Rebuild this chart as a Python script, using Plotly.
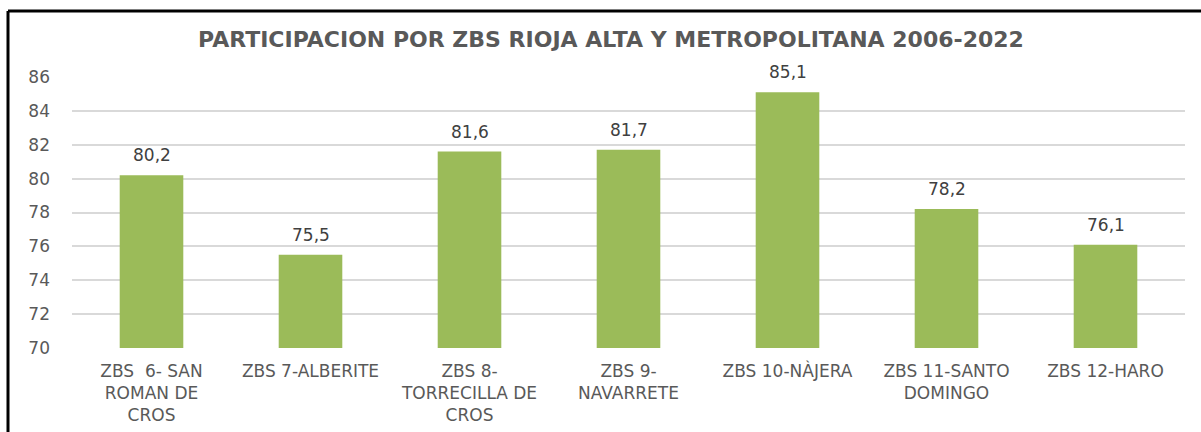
import plotly.graph_objects as go

categories = [
    "ZBS  6- SAN<br>ROMAN DE<br>CROS",
    "ZBS 7-ALBERITE",
    "ZBS 8-<br>TORRECILLA DE<br>CROS",
    "ZBS 9-<br>NAVARRETE",
    "ZBS 10-NÀJERA",
    "ZBS 11-SANTO<br>DOMINGO",
    "ZBS 12-HARO",
]
values = [80.2, 75.5, 81.6, 81.7, 85.1, 78.2, 76.1]
y_ticks = [70, 72, 74, 76, 78, 80, 82, 84, 86]

FONT = "DejaVu Sans"
TXT = "#595959"

W, H = 1201, 432
L, T = 72, 77
R = W - 1185
B = H - 348
pw, ph = W - L - R, H - T - B

fig = go.Figure()
fig.add_trace(go.Bar(
    x=categories, y=values,
    marker=dict(color="#9BBB59", line=dict(width=0)),
    width=0.4,
    hoverinfo="x+y",
))

for c, v in zip(categories, values):
    fig.add_annotation(
        x=c, y=v, text=f"{v:.1f}".replace(".", ","),
        showarrow=False, yanchor="bottom", yshift=8,
        font=dict(family=FONT, size=17, color="#404040"),
    )

# outer chart-area frame (partially cropped in the reference)
bx = (8 - L) / pw
by = 1 + (T - 11) / ph
fig.add_shape(type="line", xref="paper", yref="paper", x0=bx, x1=1 + R / pw, y0=by, y1=by,
              line=dict(color="black", width=3))
fig.add_shape(type="line", xref="paper", yref="paper", x0=bx, x1=bx, y0=by, y1=-B / ph,
              line=dict(color="black", width=3))

fig.update_layout(
    width=W, height=H,
    margin=dict(l=L, r=R, t=T, b=B, autoexpand=False),
    paper_bgcolor="white", plot_bgcolor="white",
    separators=",.",
    showlegend=False,
    title=dict(
        text="<b>PARTICIPACION POR ZBS RIOJA ALTA Y METROPOLITANA 2006-2022</b>",
        x=(611 - L) / pw, xref="paper", xanchor="center",
        y=1 - 39 / H, yanchor="middle",
        font=dict(family=FONT, size=22, color=TXT),
    ),
    font=dict(family=FONT, color=TXT),
)
fig.update_xaxes(
    showgrid=False, showline=False, zeroline=False, automargin=False,
    tickfont=dict(family=FONT, size=17, color=TXT),
    ticks="", tickangle=0, ticklabelstandoff=11,
)
fig.update_yaxes(
    range=[70, 86], tickvals=y_ticks, automargin=False,
    showgrid=True, gridcolor="#D9D9D9", gridwidth=1.5,
    zeroline=False, showline=False,
    tickfont=dict(family=FONT, size=17, color=TXT),
    ticks="", ticklabelstandoff=21,
)

fig.write_html(
    "out.html",
    config={"displayModeBar": False},
    post_script="document.body.style.margin='0';"
                "document.body.style.overflow='hidden';"
                "document.documentElement.style.overflow='hidden';",
)
